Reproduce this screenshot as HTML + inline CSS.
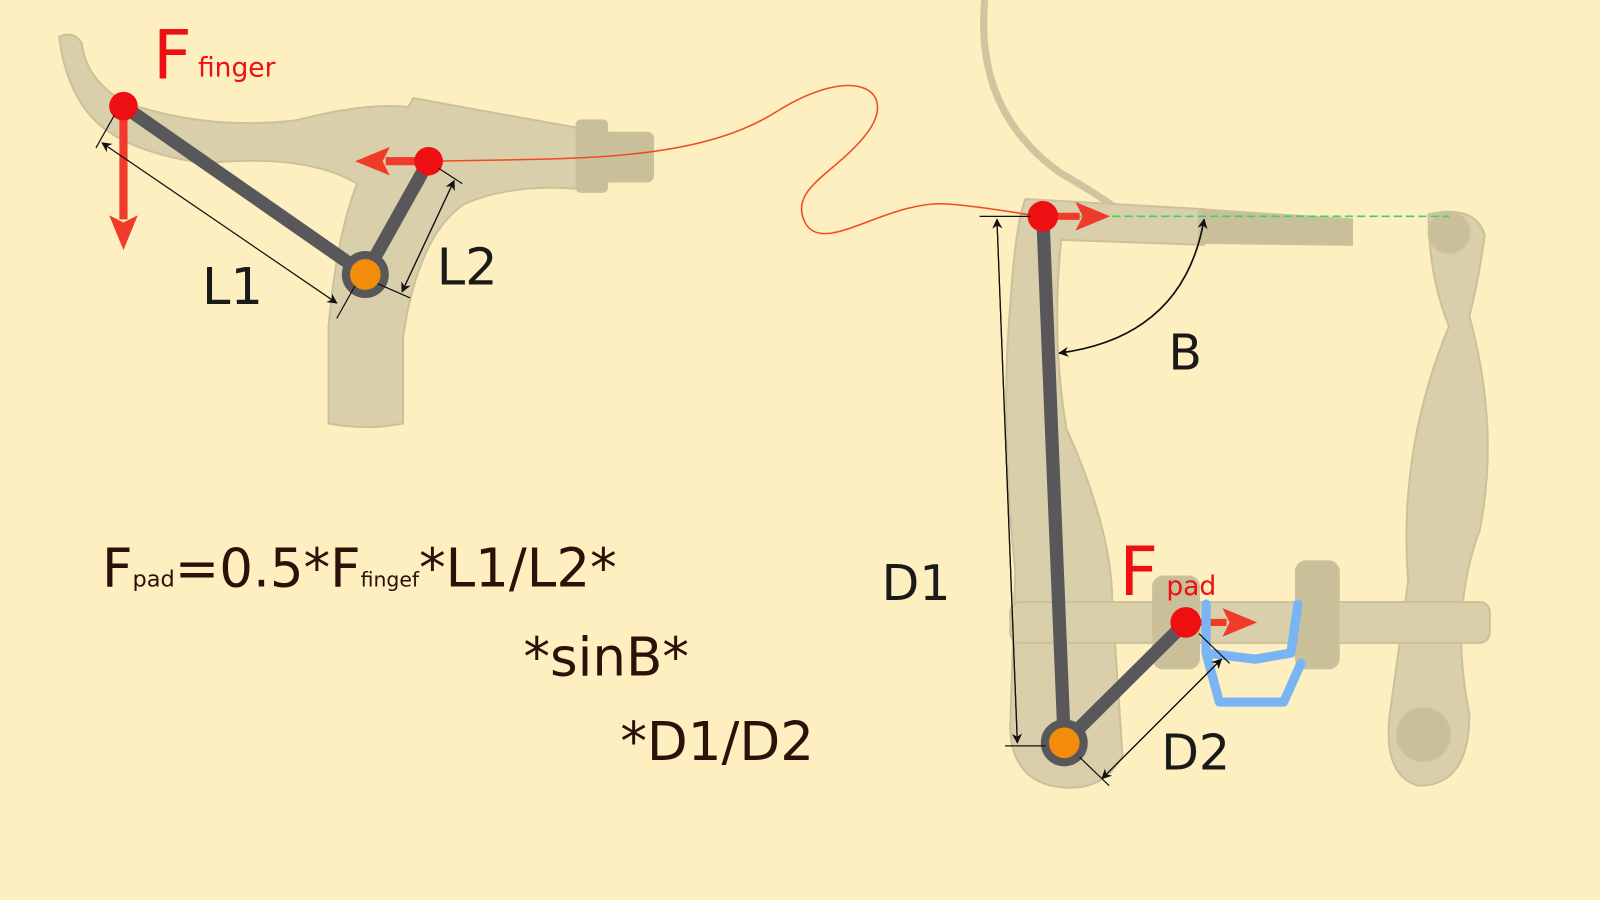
<!DOCTYPE html>
<html><head><style>
html,body{margin:0;padding:0;background:#fdefbf;}
svg{display:block;}
text{font-family:"DejaVu Sans","Liberation Sans",sans-serif;}
</style></head><body>
<svg width="1600" height="900" viewBox="0 0 1568 882" xmlns="http://www.w3.org/2000/svg">
<defs>
<marker id="ab" markerWidth="10" markerHeight="10" refX="9" refY="5" orient="auto" markerUnits="userSpaceOnUse" viewBox="0 0 10 10"><path d="M0,0 L10,5 L0,10 L3,5z" fill="#111"/></marker>
<marker id="ar" markerWidth="34" markerHeight="34" refX="4" refY="17" orient="auto" markerUnits="userSpaceOnUse" viewBox="0 0 34 34"><path d="M0,3 L34,17 L0,31 L7,17z" fill="#f03a2a"/></marker>
</defs>
<rect width="1568" height="882" fill="#fdefbf"/>
<!-- lever photo -->
<g fill="#d9d0ab" stroke="#cbc29c" stroke-width="2">
<path d="M58,36 Q72,30 80,42 Q84,78 122,100 Q200,128 290,118 Q360,100 400,105 L405,96 Q480,110 565,125 L565,185 Q500,180 455,200 Q410,230 395,330 L395,415 Q360,422 322,415 L322,320 Q330,230 350,180 Q300,150 200,160 Q120,148 90,115 Q64,86 58,36Z"/>
<rect x="565" y="118" width="30" height="70" rx="4" fill="#c9c09a"/>
<rect x="590" y="130" width="50" height="48" rx="6" fill="#c9c09a"/>
</g>
<!-- caliper photo -->
<g fill="#d9d0ab" stroke="#cbc29c" stroke-width="2">
<path d="M965,0 Q955,110 1040,170 Q1075,190 1095,205" fill="none" stroke="#cfc6a0" stroke-width="7"/>
<path d="M1005,195 L1180,205 L1180,240 L1040,235 Q1030,330 1045,420 Q1090,520 1090,590 L1100,740 Q1080,780 1030,770 Q990,760 990,710 L995,560 Q980,420 990,300 Q995,220 1005,195Z"/>
<path d="M1175,205 L1325,215 L1325,240 L1175,238Z" fill="#c9c09a"/>
<path d="M1400,210 Q1445,200 1455,230 Q1450,270 1440,310 Q1470,420 1450,520 Q1420,600 1440,700 Q1440,770 1390,770 Q1355,760 1362,700 L1380,570 Q1370,440 1420,320 Q1400,270 1400,210Z"/>
<circle cx="1420" cy="228" r="20" fill="#c9c09a"/>
<circle cx="1395" cy="720" r="26" fill="#c9c09a"/>
<rect x="990" y="590" width="470" height="40" rx="10"/>
<rect x="1130" y="565" width="45" height="90" rx="10" fill="#c9c09a"/>
<rect x="1270" y="550" width="42" height="105" rx="10" fill="#c9c09a"/>
</g>
<!-- red cable -->
<path d="M420,158 C560,155 680,160 760,110 C840,60 880,90 850,130 C820,170 770,185 790,220 C810,250 870,195 930,200 C970,203 1000,210 1022,212" fill="none" stroke="#f04a20" stroke-width="1.5"/>
<line x1="1030" y1="212" x2="1420" y2="212" stroke="#3bd36a" stroke-width="1.5" stroke-dasharray="8,4"/>
<!-- lever mechanics -->
<line x1="121" y1="104" x2="121" y2="215" stroke="#f03a2a" stroke-width="8" marker-end="url(#ar)"/>
<line x1="420" y1="158" x2="378" y2="158" stroke="#f03a2a" stroke-width="8" marker-end="url(#ar)"/>
<line x1="121" y1="104" x2="358" y2="269" stroke="#58585a" stroke-width="13"/>
<line x1="420" y1="158" x2="358" y2="269" stroke="#58585a" stroke-width="13"/>
<circle cx="358" cy="269" r="19" fill="#f38c0a" stroke="#58585a" stroke-width="8"/>
<circle cx="121" cy="104" r="14" fill="#ee0f12"/>
<circle cx="420" cy="158" r="14" fill="#ee0f12"/>
<line x1="112" y1="113" x2="94" y2="145" stroke="#111" stroke-width="1.2"/>
<line x1="348" y1="280" x2="330" y2="312" stroke="#111" stroke-width="1.2"/>
<line x1="330" y1="297" x2="100" y2="140" stroke="#111" stroke-width="1.2" marker-end="url(#ab)"/>
<line x1="100" y1="140" x2="330" y2="297" stroke="#111" stroke-width="0" marker-end="url(#ab)"/>
<line x1="430" y1="165" x2="453" y2="180" stroke="#111" stroke-width="1.2"/>
<line x1="370" y1="278" x2="402" y2="292" stroke="#111" stroke-width="1.2"/>
<line x1="394" y1="286" x2="445" y2="177" stroke="#111" stroke-width="1.2" marker-end="url(#ab)"/>
<line x1="445" y1="177" x2="394" y2="286" stroke="#111" stroke-width="1.2" marker-end="url(#ab)"/>
<text x="150" y="77" font-size="66" fill="#ee0f12">F</text>
<text x="194" y="75" font-size="26" fill="#ee0f12">finger</text>
<text x="198" y="298" font-size="50" fill="#1a1a1a">L1</text>
<text x="428" y="279" font-size="50" fill="#1a1a1a">L2</text>
<!-- caliper mechanics -->
<line x1="1022" y1="212" x2="1058" y2="212" stroke="#f03a2a" stroke-width="7" marker-end="url(#ar)"/>
<line x1="1162" y1="610" x2="1202" y2="610" stroke="#f03a2a" stroke-width="7" marker-end="url(#ar)"/>
<path d="M1182,592 L1182,640 L1230,646 L1265,640 L1272,592 M1182,640 L1195,688 L1258,688 L1275,650" fill="none" stroke="#79b4f5" stroke-width="9" stroke-linecap="round" stroke-linejoin="round"/>
<line x1="1022" y1="212" x2="1043" y2="728" stroke="#58585a" stroke-width="13"/>
<line x1="1162" y1="610" x2="1043" y2="728" stroke="#58585a" stroke-width="13"/>
<circle cx="1043" cy="728" r="19" fill="#f38c0a" stroke="#58585a" stroke-width="8"/>
<circle cx="1022" cy="212" r="15" fill="#ee0f12"/>
<circle cx="1162" cy="610" r="15" fill="#ee0f12"/>
<line x1="960" y1="212" x2="1010" y2="212" stroke="#111" stroke-width="1.2"/>
<line x1="985" y1="731" x2="1025" y2="731" stroke="#111" stroke-width="1.2"/>
<line x1="997" y1="728" x2="977" y2="215" stroke="#111" stroke-width="1.2" marker-end="url(#ab)"/>
<line x1="977" y1="215" x2="997" y2="728" stroke="#111" stroke-width="1.2" marker-end="url(#ab)"/>
<line x1="1175" y1="621" x2="1205" y2="650" stroke="#111" stroke-width="1.2"/>
<line x1="1058" y1="742" x2="1087" y2="770" stroke="#111" stroke-width="1.2"/>
<line x1="1080" y1="763" x2="1197" y2="646" stroke="#111" stroke-width="1.2" marker-end="url(#ab)"/>
<line x1="1197" y1="646" x2="1080" y2="763" stroke="#111" stroke-width="1.2" marker-end="url(#ab)"/>
<path d="M1038,346 Q1160,330 1180,215" fill="none" stroke="#111" stroke-width="1.5" marker-end="url(#ab)"/>
<path d="M1180,215 Q1160,330 1038,346" fill="none" stroke="#111" stroke-width="1.5" marker-end="url(#ab)"/>
<text x="1145" y="362" font-size="48" fill="#1a1a1a">B</text>
<text x="864" y="588" font-size="48" fill="#1a1a1a">D1</text>
<text x="1138" y="754" font-size="48" fill="#1a1a1a">D2</text>
<text x="1097" y="583" font-size="66" fill="#ee0f12">F</text>
<text x="1143" y="583" font-size="26" fill="#ee0f12">pad</text>
<!-- formula -->
<text x="100" y="575" font-size="52" fill="#2a1208">F<tspan font-size="22">pad</tspan>=0.5*F<tspan font-size="20">fingef</tspan>*L1/L2*</text>
<text x="513" y="662" font-size="52" fill="#2a1208">*sinB*</text>
<text x="608" y="745" font-size="52" fill="#2a1208">*D1/D2</text>
</svg>
</body></html>
